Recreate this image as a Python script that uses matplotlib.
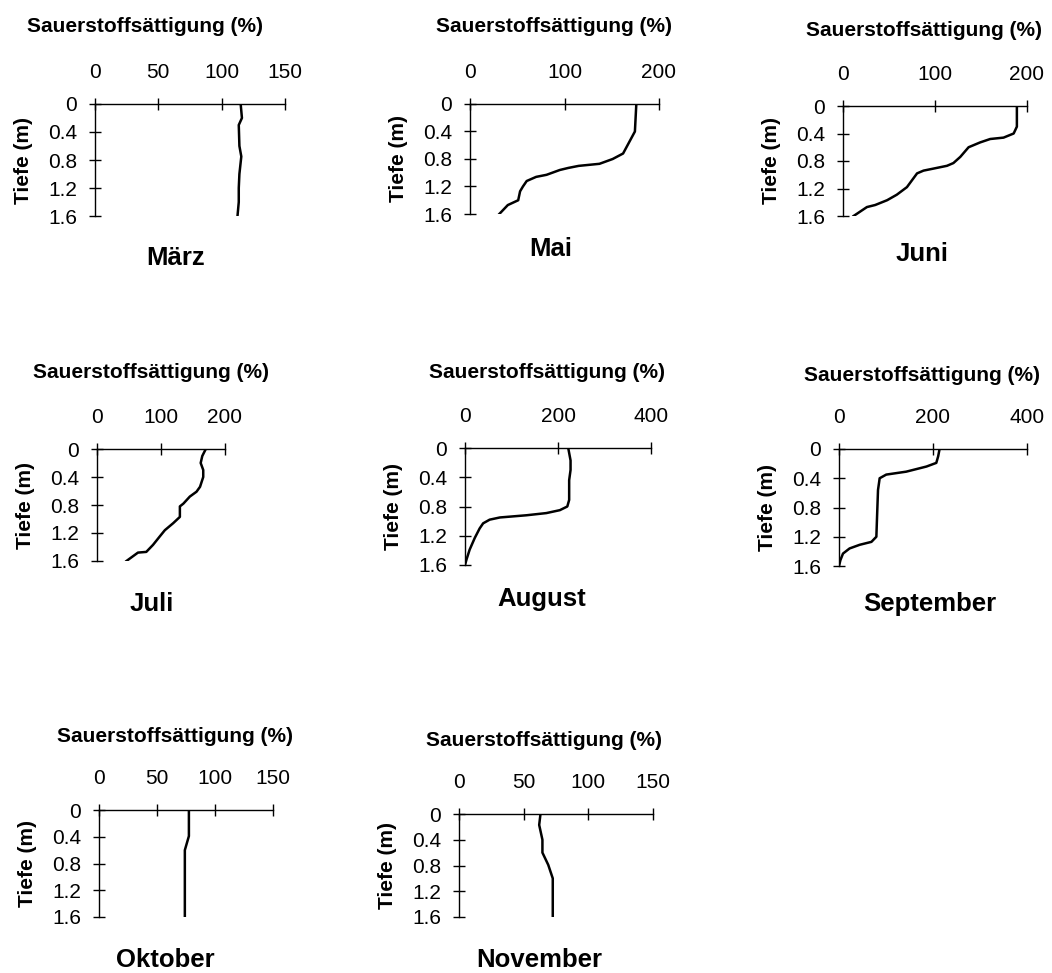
import matplotlib.pyplot as plt

plt.rcParams['font.family'] = ['Liberation Sans', 'DejaVu Sans']

# Sauerstoffsättigung (%) über Tiefe (m) je Monat
maerz_tiefe = [0, 0.2, 0.3, 0.6, 0.75, 1.0, 1.2, 1.4, 1.6]
maerz_sat = [115, 116, 113.5, 114, 115.5, 114, 113.5, 113.5, 112.5]

mai_tiefe = [0, 0.4, 0.72, 0.8, 0.87, 0.9, 0.93, 0.96, 1.0, 1.03, 1.06, 1.12, 1.2, 1.27, 1.4, 1.47, 1.6]
mai_sat = [176, 174.5, 162, 151, 137, 115, 104, 95, 87, 81, 70, 60, 56, 53, 51, 40, 31]

juni_tiefe = [0, 0.3, 0.4, 0.46, 0.48, 0.53, 0.6, 0.74, 0.83, 0.87, 0.91, 0.94, 0.98, 1.08, 1.18, 1.29, 1.37, 1.44, 1.47, 1.6]
juni_sat = [189, 189, 185.5, 174.5, 160, 149, 136.5, 127.5, 120, 113, 98.5, 87.5, 80.5, 75, 69.5, 58.5, 48, 35, 26, 11.5]

juli_tiefe = [0, 0.1, 0.2, 0.3, 0.4, 0.54, 0.61, 0.68, 0.78, 0.82, 0.97, 1.06, 1.16, 1.25, 1.37, 1.47, 1.48, 1.6]
juli_sat = [170, 164.5, 162, 166, 166, 161, 155.5, 145, 135, 129.5, 129.5, 119, 106, 98, 87.5, 77, 64, 46]

aug_tiefe = [0, 0.17, 0.3, 0.44, 0.71, 0.8, 0.85, 0.89, 0.92, 0.95, 0.98, 1.03, 1.1, 1.23, 1.39, 1.53, 1.6]
aug_sat = [222, 227, 227, 224, 224, 220, 204, 175, 132, 75, 53, 39, 31.5, 21, 10, 3, 0]

sept_tiefe = [0, 0.1, 0.19, 0.24, 0.31, 0.35, 0.4, 0.47, 0.56, 0.92, 1.2, 1.27, 1.31, 1.36, 1.43, 1.52, 1.6]
sept_sat = [214, 211, 207, 186, 143, 100.5, 86.5, 85, 83, 81, 79.5, 69, 44, 22.5, 8.5, 3, 0]

okt_tiefe = [0, 0.39, 0.6, 1.6]
okt_sat = [77.5, 77.5, 74, 74]

nov_tiefe = [0, 0.17, 0.4, 0.6, 0.79, 1.0, 1.6]
nov_sat = [63, 62, 64.5, 64.5, 69, 72.5, 72.5]

monate = ['März', 'Mai', 'Juni', 'Juli', 'August', 'September', 'Oktober', 'November']
tiefen = [maerz_tiefe, mai_tiefe, juni_tiefe, juli_tiefe, aug_tiefe, sept_tiefe, okt_tiefe, nov_tiefe]
werte = [maerz_sat, mai_sat, juni_sat, juli_sat, aug_sat, sept_sat, okt_sat, nov_sat]
x_max = [150, 200, 200, 200, 400, 400, 150, 150]
x_schritt = [50, 100, 100, 100, 200, 200, 50, 50]
y_ticks = [0, 0.4, 0.8, 1.2, 1.6]

W, H = 1052, 973
# Achsenrahmen in Pixel: links, oben, rechts, unten
rahmen = [(95, 104, 285, 216), (470, 104, 659, 214), (843, 106, 1027, 216),
          (97, 449, 225, 561), (465, 448, 651, 565), (839, 449, 1027, 566),
          (99, 810, 273, 917), (459, 814, 653, 917)]
titel_pos = [(145, 27), (554, 27), (924, 31), (151, 373), (547, 373), (922, 375), (175, 737), (544, 740)]
monat_pos = [(176, 258), (551, 249), (922, 254), (152, 604), (542, 599), (930, 604), (165, 960), (539, 960)]

fig = plt.figure(figsize=(W / 100, H / 100), dpi=100)

for i in range(len(monate)):
    x0, y0, x1, y1 = rahmen[i]
    ax = fig.add_axes([x0 / W, 1 - y1 / H, (x1 - x0) / W, (y1 - y0) / H])
    ax.plot(werte[i], tiefen[i], color='black', lw=1.8)
    ax.set_xlim(0, x_max[i])
    ax.set_ylim(1.6, 0)
    ax.set_xticks(range(0, x_max[i] + 1, x_schritt[i]))
    ax.set_yticks(y_ticks)
    ax.set_yticklabels(['0', '0.4', '0.8', '1.2', '1.6'])
    ax.spines['right'].set_visible(False)
    ax.spines['bottom'].set_visible(False)
    ax.spines['top'].set_linewidth(1.0)
    ax.spines['left'].set_linewidth(1.0)
    ax.xaxis.tick_top()
    ax.tick_params(axis='x', direction='inout', length=8, width=1, pad=12, labelsize=15)
    ax.tick_params(axis='y', direction='inout', length=8, width=1, pad=9, labelsize=15)
    ax.patch.set_visible(False)
    ax.set_ylabel('Tiefe (m)', fontsize=15, fontweight='bold', labelpad=11)

    tx, ty = titel_pos[i]
    fig.text(tx / W, 1 - ty / H, 'Sauerstoffsättigung (%)', ha='center', va='center',
             fontsize=15, fontweight='bold')
    mx, my = monat_pos[i]
    fig.text(mx / W, 1 - my / H, monate[i], ha='center', va='center',
             fontsize=18.5, fontweight='bold')

fig.savefig('out.png', dpi=100)
